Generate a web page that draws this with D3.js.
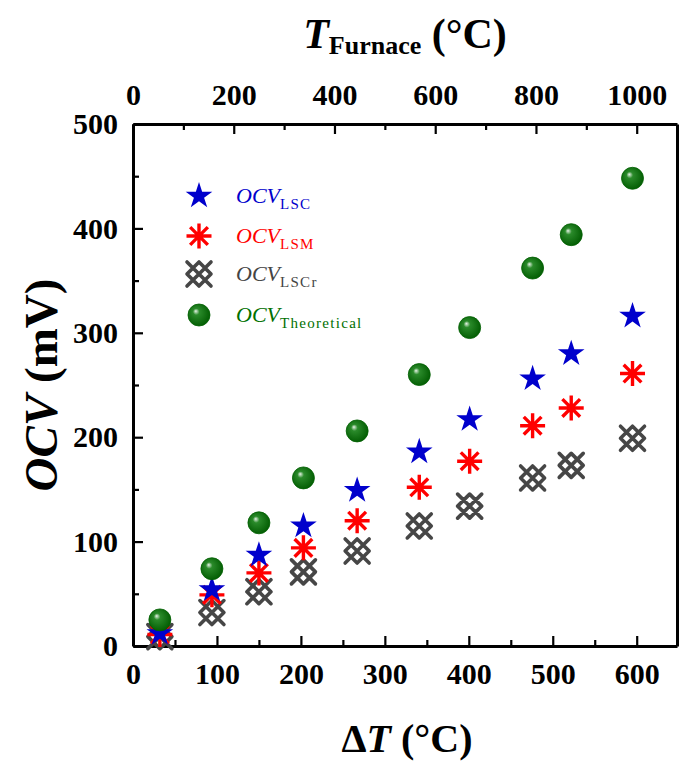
<!DOCTYPE html>
<html><head><meta charset="utf-8">
<script src="https://cdn.jsdelivr.net/npm/d3@7"></script>
<style>body{margin:0;background:#fff}svg{display:block}</style>
</head><body>
<svg id="c" width="689" height="763"></svg>
<script>
// ---- data ----
const deltaT = [32, 94, 150, 203, 267, 341, 401, 476, 522, 595];
const ocvLSC = [12, 54, 87, 115, 149, 186, 217, 256, 280, 316];
const ocvLSM = [11, 49, 70, 94, 120, 152, 177, 211, 228, 261];
const ocvLSCr = [9, 32, 52, 71, 91, 115, 134, 161, 173, 199];
const ocvTheo = [25, 74, 118, 161, 206, 260, 305, 362, 394, 448];
const xTicks = [0, 100, 200, 300, 400, 500, 600];
const yTicks = [0, 100, 200, 300, 400, 500];
const topTicks = [0, 200, 400, 600, 800, 1000];
const legendNames = ["LSC", "LSM", "LSCr", "Theoretical"];

const svg = d3.select("#c");
const L = 133, R = 677, T = 124, B = 646;
const x = d3.scaleLinear().domain([0, 648]).range([L, R]);
const xTop = d3.scaleLinear().domain([0, 648 * 1000 / 600]).range([L, R]);
const y = d3.scaleLinear().domain([0, 500]).range([B, T]);
const serif = "'Liberation Serif','Times New Roman',serif";

// defs
const defs = svg.append("defs");
const g1 = defs.append("radialGradient").attr("id", "ball").attr("cx", "45%").attr("cy", "45%").attr("r", "60%").attr("fx", "35%").attr("fy", "32%");
g1.append("stop").attr("offset", "0%").attr("stop-color", "#e8f4e8");
g1.append("stop").attr("offset", "25%").attr("stop-color", "#2a8a2a");
g1.append("stop").attr("offset", "100%").attr("stop-color", "#005a00");

function styleAxis(g) {
  g.selectAll("path.domain").attr("stroke", "#000").attr("stroke-width", 3);
  g.selectAll(".tick line").attr("stroke", "#000").attr("stroke-width", 2.2);
  g.selectAll(".tick text").attr("font-family", serif).attr("font-weight", "bold").attr("font-size", 30).attr("fill", "#000");
}
function minor(g) { g.select("path.domain").remove(); g.selectAll(".tick line").attr("stroke", "#000").attr("stroke-width", 2.2); }

// bottom
svg.append("g").attr("transform", `translate(0,${B})`)
  .call(d3.axisBottom(x).tickValues(xTicks).tickSizeInner(-10).tickSizeOuter(0).tickPadding(17).tickFormat(d3.format("d")))
  .call(styleAxis);
svg.append("g").attr("transform", `translate(0,${B})`)
  .call(d3.axisBottom(x).tickValues(d3.range(50, 648, 100)).tickSizeInner(-6).tickSizeOuter(0).tickFormat("")).call(minor);

// top
svg.append("g").attr("transform", `translate(0,${T})`)
  .call(d3.axisTop(xTop).tickValues(topTicks).tickSizeInner(-10).tickSizeOuter(0).tickPadding(19).tickFormat(d3.format("d")))
  .call(styleAxis);
svg.append("g").attr("transform", `translate(0,${T})`)
  .call(d3.axisTop(xTop).tickValues(d3.range(100, 1080, 200)).tickSizeInner(-6).tickSizeOuter(0).tickFormat("")).call(minor);

// left
svg.append("g").attr("transform", `translate(${L},0)`)
  .call(d3.axisLeft(y).tickValues(yTicks).tickSizeInner(-10).tickSizeOuter(0).tickPadding(15).tickFormat(d3.format("d")))
  .call(styleAxis);
svg.append("g").attr("transform", `translate(${L},0)`)
  .call(d3.axisLeft(y).tickValues(d3.range(50, 500, 100)).tickSizeInner(-6).tickSizeOuter(0).tickFormat("")).call(minor);

// right
svg.append("g").attr("transform", `translate(${R},0)`)
  .call(d3.axisRight(y).tickValues([]).tickSizeOuter(0))
  .call(styleAxis);

// markers
const star = d3.symbol().type(d3.symbolStar).size(220)();
function drawStar(g) { g.append("path").attr("d", star).attr("fill", "#0000cc"); }
function drawAst(g) {
  const r = 12.5, p = [];
  for (let i = 0; i < 4; i++) { const a = i * Math.PI / 4; p.push(`M${-r*Math.cos(a)},${-r*Math.sin(a)}L${r*Math.cos(a)},${r*Math.sin(a)}`); }
  g.append("path").attr("d", p.join("")).attr("stroke", "#ff0000").attr("stroke-width", 3.4).attr("fill", "none");
}
function drawLattice(g) {
  const s = 12;
  const p = [
    `M${-s},${-s}L${s},${s}`, `M${-s},${s}L${s},${-s}`,
    `M${-s},0L0,${s}L${s},0L0,${-s}Z`
  ];
  g.append("path").attr("d", p.join("")).attr("stroke", "#464646").attr("stroke-width", 3.6).attr("fill", "none").attr("stroke-linecap", "round").attr("stroke-linejoin", "round");
}
function drawBall(g) { g.append("circle").attr("r", 11).attr("fill", "url(#ball)").attr("stroke", "#006000").attr("stroke-width", 0.8); }

const series = [
  { vals: ocvLSCr, draw: drawLattice },
  { vals: ocvLSM, draw: drawAst },
  { vals: ocvLSC, draw: drawStar },
  { vals: ocvTheo, draw: drawBall }
];
series.forEach(s => {
  svg.append("g").selectAll("g").data(deltaT.map((d, i) => [d, s.vals[i]])).join("g")
    .attr("transform", d => `translate(${x(d[0])},${y(d[1])})`)
    .each(function () { s.draw(d3.select(this)); });
});

// legend
const legColors = ["#0000cc", "#ff0000", "#444444", "#007000"];
const legDraw = [drawStar, drawAst, drawLattice, drawBall];
const legY = [196, 236, 274, 315];
legendNames.forEach((n, i) => {
  const g = svg.append("g").attr("transform", `translate(199,${legY[i]})`);
  legDraw[i](g);
  const t = svg.append("text").attr("x", 236).attr("y", legY[i] + 7).attr("font-family", serif).attr("fill", legColors[i]);
  t.append("tspan").attr("font-style", "italic").attr("font-size", 22).text("OCV");
  t.append("tspan").attr("font-size", 15).attr("letter-spacing", 1.3).attr("dy", 6).text(n);
});

// titles
const tt = svg.append("text").attr("x", 405).attr("y", 48).attr("text-anchor", "middle").attr("font-family", serif).attr("font-weight", "bold").attr("fill", "#000");
tt.append("tspan").attr("font-style", "italic").attr("font-size", 42).text("T");
tt.append("tspan").attr("font-size", 26).attr("dy", 6).text("Furnace");
tt.append("tspan").attr("font-size", 42).attr("dy", -6).text(" (°C)");

const xt = svg.append("text").attr("x", 407).attr("y", 752).attr("text-anchor", "middle").attr("font-family", serif).attr("font-weight", "bold").attr("font-size", 40).attr("fill", "#000");
xt.append("tspan").text("Δ");
xt.append("tspan").attr("font-style", "italic").text("T");
xt.append("tspan").text(" (°C)");

const yt = svg.append("text").attr("transform", "translate(57,385) rotate(-90)").attr("text-anchor", "middle").attr("font-family", serif).attr("font-weight", "bold").attr("font-size", 47).attr("fill", "#000");
yt.append("tspan").attr("font-style", "italic").text("OCV");
yt.append("tspan").text(" (mV)");
</script>
</body></html>
